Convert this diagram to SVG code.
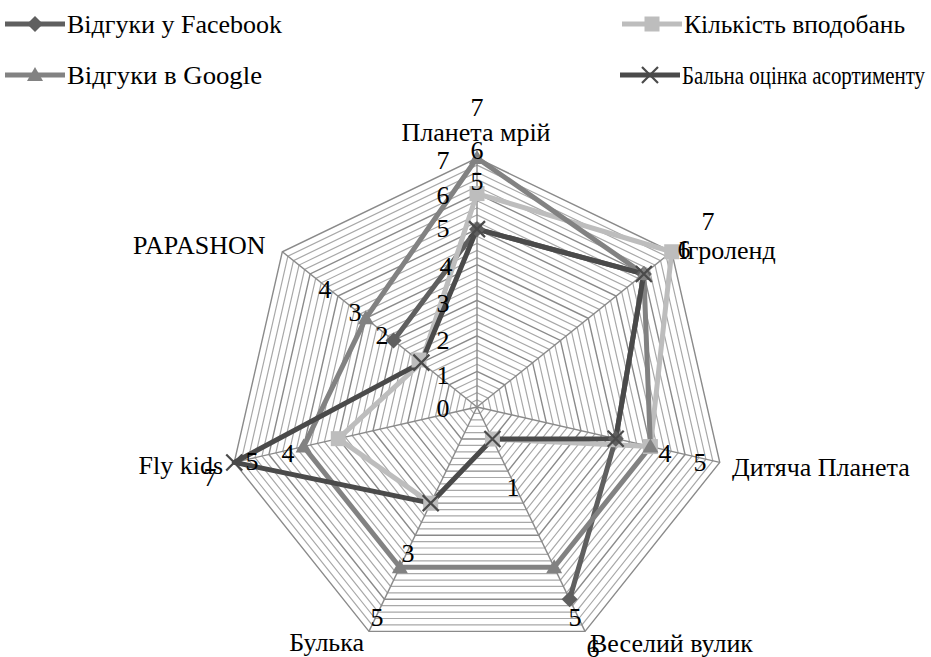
<svg xmlns="http://www.w3.org/2000/svg" xmlns:xlink="http://www.w3.org/1999/xlink" width="931" height="657" viewBox="0 0 931 657">
<style>
text{font-family:"Liberation Serif","Times New Roman",serif;font-size:26px;fill:#000}
.n{text-anchor:middle}
.hp{fill:none;vector-effect:non-scaling-stroke}
.minor{stroke:#a8a8a8;stroke-width:1.2}
.major{stroke:#8a8a8a;stroke-width:1.4}
.spoke{stroke:#8a8a8a;stroke-width:1.4}
.s{fill:none;stroke-width:5;stroke-linejoin:round}
.fb{stroke:#5f5f5f}.fbf{fill:#5f5f5f}
.lk{stroke:#bdbdbd}.lkf{fill:#bdbdbd}
.gg{stroke:#828282}.ggf{fill:#828282}
.ba{stroke:#4a4a4a}
.xm{fill:none;stroke:#4a4a4a;stroke-width:2.2}
</style>
<defs>
<polygon id="h" class="hp" points="0,-1 0.78183,-0.62349 0.97493,0.22252 0.43388,0.90097 -0.43388,0.90097 -0.97493,0.22252 -0.78183,-0.62349"/>
<path id="dm" d="M0,-8 L8,0 L0,8 L-8,0Z"/>
<path id="sq" d="M-7.5,-7.5h15v15h-15z"/>
<path id="tr" d="M0,-8 L8,6 L-8,6Z"/>
<path id="xx" d="M-8,-8L8,8M8,-8L-8,8"/>
</defs>
<g id="grid">
<g class="minor">
<use href="#h" transform="translate(477 407) scale(7.1143)"/>
<use href="#h" transform="translate(477 407) scale(14.2286)"/>
<use href="#h" transform="translate(477 407) scale(21.3429)"/>
<use href="#h" transform="translate(477 407) scale(28.4571)"/>
<use href="#h" transform="translate(477 407) scale(42.6857)"/>
<use href="#h" transform="translate(477 407) scale(49.8)"/>
<use href="#h" transform="translate(477 407) scale(56.9143)"/>
<use href="#h" transform="translate(477 407) scale(64.0286)"/>
<use href="#h" transform="translate(477 407) scale(78.2571)"/>
<use href="#h" transform="translate(477 407) scale(85.3714)"/>
<use href="#h" transform="translate(477 407) scale(92.4857)"/>
<use href="#h" transform="translate(477 407) scale(99.6)"/>
<use href="#h" transform="translate(477 407) scale(113.8286)"/>
<use href="#h" transform="translate(477 407) scale(120.9429)"/>
<use href="#h" transform="translate(477 407) scale(128.0571)"/>
<use href="#h" transform="translate(477 407) scale(135.1714)"/>
<use href="#h" transform="translate(477 407) scale(149.4)"/>
<use href="#h" transform="translate(477 407) scale(156.5143)"/>
<use href="#h" transform="translate(477 407) scale(163.6286)"/>
<use href="#h" transform="translate(477 407) scale(170.7429)"/>
<use href="#h" transform="translate(477 407) scale(184.9714)"/>
<use href="#h" transform="translate(477 407) scale(192.0857)"/>
<use href="#h" transform="translate(477 407) scale(199.2)"/>
<use href="#h" transform="translate(477 407) scale(206.3143)"/>
<use href="#h" transform="translate(477 407) scale(220.5429)"/>
<use href="#h" transform="translate(477 407) scale(227.6571)"/>
<use href="#h" transform="translate(477 407) scale(234.7714)"/>
<use href="#h" transform="translate(477 407) scale(241.8857)"/>
</g>
<g class="major">
<use href="#h" transform="translate(477 407) scale(35.5714)"/>
<use href="#h" transform="translate(477 407) scale(71.1429)"/>
<use href="#h" transform="translate(477 407) scale(106.7143)"/>
<use href="#h" transform="translate(477 407) scale(142.2857)"/>
<use href="#h" transform="translate(477 407) scale(177.8571)"/>
<use href="#h" transform="translate(477 407) scale(213.4286)"/>
<use href="#h" transform="translate(477 407) scale(249)"/>
</g>
<g class="spoke">
<line x1="477" y1="407" x2="477" y2="158"/>
<line x1="477" y1="407" x2="671.68" y2="251.75"/>
<line x1="477" y1="407" x2="719.76" y2="462.41"/>
<line x1="477" y1="407" x2="585.04" y2="631.34"/>
<line x1="477" y1="407" x2="368.96" y2="631.34"/>
<line x1="477" y1="407" x2="234.24" y2="462.41"/>
<line x1="477" y1="407" x2="282.32" y2="251.75"/>
</g>
</g>
<g id="connectors">
<polyline id="s-facebook" class="s fb" points="393.57,340.47 477,229.14 643.86,273.93 615.72,438.66 569.60,599.29"/>
<polygon id="s-likes" class="s lk" points="477,193.57 671.68,251.75 650.40,446.58 492.43,439.05 430.70,503.15 338.28,438.66 421.38,362.64"/>
<polygon id="s-google" class="s gg" points="477,158 643.86,273.93 650.40,446.58 554.17,567.24 399.83,567.24 303.60,446.58 365.76,318.29"/>
<polygon id="s-score" class="s ba" points="477,229.14 643.86,273.93 615.72,438.66 492.43,439.05 430.70,503.15 234.24,462.41 421.38,362.64"/>
</g>
<g id="markers">
<g class="fbf">
<use href="#dm" x="393.57" y="340.47"/>
<use href="#dm" x="477" y="229.14"/>
<use href="#dm" x="643.86" y="273.93"/>
<use href="#dm" x="615.72" y="438.66"/>
<use href="#dm" x="569.60" y="599.29"/>
</g>
<g class="lkf">
<use href="#sq" x="477" y="193.57"/>
<use href="#sq" x="671.68" y="251.75"/>
<use href="#sq" x="650.40" y="446.58"/>
<use href="#sq" x="492.43" y="439.05"/>
<use href="#sq" x="430.70" y="503.15"/>
<use href="#sq" x="338.28" y="438.66"/>
<use href="#sq" x="419" y="360"/>
</g>
<g class="ggf">
<use href="#tr" x="477" y="158"/>
<use href="#tr" x="643.86" y="273.93"/>
<use href="#tr" x="650.40" y="446.58"/>
<use href="#tr" x="554.17" y="567.24"/>
<use href="#tr" x="399.83" y="567.24"/>
<use href="#tr" x="303.60" y="446.58"/>
<use href="#tr" x="365.76" y="318.29"/>
</g>
<g class="xm">
<use href="#xx" x="477" y="229.14"/>
<use href="#xx" x="643.86" y="273.93"/>
<use href="#xx" x="615.72" y="438.66"/>
<use href="#xx" x="492.43" y="439.05"/>
<use href="#xx" x="430.70" y="503.15"/>
<use href="#xx" x="234.24" y="462.41"/>
<use href="#xx" x="421.38" y="362.64"/>
</g>
</g>
<g id="axis-labels">
<text x="443" y="417" class="n">0</text>
<text x="443" y="384" class="n">1</text>
<text x="443" y="349" class="n">2</text>
<text x="443" y="312" class="n">3</text>
<text x="446" y="275" class="n">4</text>
<text x="443" y="237" class="n">5</text>
<text x="443" y="204" class="n">6</text>
<text x="443" y="169" class="n">7</text>
</g>
<g id="data-labels">
<text x="477" y="116" class="n">7</text>
<text x="477" y="159" class="n">6</text>
<text x="477" y="190" class="n">5</text>
<text x="325" y="298" class="n">4</text>
<text x="355" y="321" class="n">3</text>
<text x="382" y="344" class="n">2</text>
<text x="708" y="230" class="n">7</text>
<text x="684" y="258" class="n">6</text>
<text x="665" y="462" class="n">4</text>
<text x="700" y="471" class="n">5</text>
<text x="513" y="496" class="n">1</text>
<text x="408" y="562" class="n">3</text>
<text x="377" y="626" class="n">5</text>
<text x="575" y="626" class="n">5</text>
<text x="593" y="657" class="n">6</text>
<text x="252" y="470" class="n">5</text>
<text x="288" y="462" class="n">4</text>
<text x="210" y="486" class="n">7</text>
</g>
<g id="category-labels">
<text x="476" y="141" class="n">Планета мрій</text>
<text x="679" y="259">Ігроленд</text>
<text x="732" y="476">Дитяча Планета</text>
<text x="590" y="652">Веселий вулик</text>
<text x="364" y="651" text-anchor="end">Булька</text>
<text x="223" y="474" text-anchor="end">Fly kids</text>
<text x="133" y="254">PAPASHON</text>
</g>
<g id="legend">
<g id="leg-facebook"><line x1="5" y1="24" x2="65" y2="24" class="s fb"/><use href="#dm" x="35" y="24" class="fbf"/><text x="67" y="33" textLength="215" lengthAdjust="spacingAndGlyphs">Відгуки у Facebook</text></g>
<g id="leg-likes"><line x1="622" y1="24" x2="682" y2="24" class="s lk"/><use href="#sq" x="652" y="24" class="lkf"/><text x="684" y="33" textLength="221" lengthAdjust="spacingAndGlyphs">Кількість вподобань</text></g>
<g id="leg-google"><line x1="5" y1="75" x2="65" y2="75" class="s gg"/><use href="#tr" x="35" y="75" class="ggf"/><text x="67" y="84" textLength="195" lengthAdjust="spacingAndGlyphs">Відгуки в Google</text></g>
<g id="leg-score"><line x1="620" y1="75" x2="680" y2="75" class="s ba"/><use href="#xx" x="650" y="75" class="xm"/><text x="682" y="84" textLength="243" lengthAdjust="spacingAndGlyphs">Бальна оцінка асортименту</text></g>
</g>
</svg>
